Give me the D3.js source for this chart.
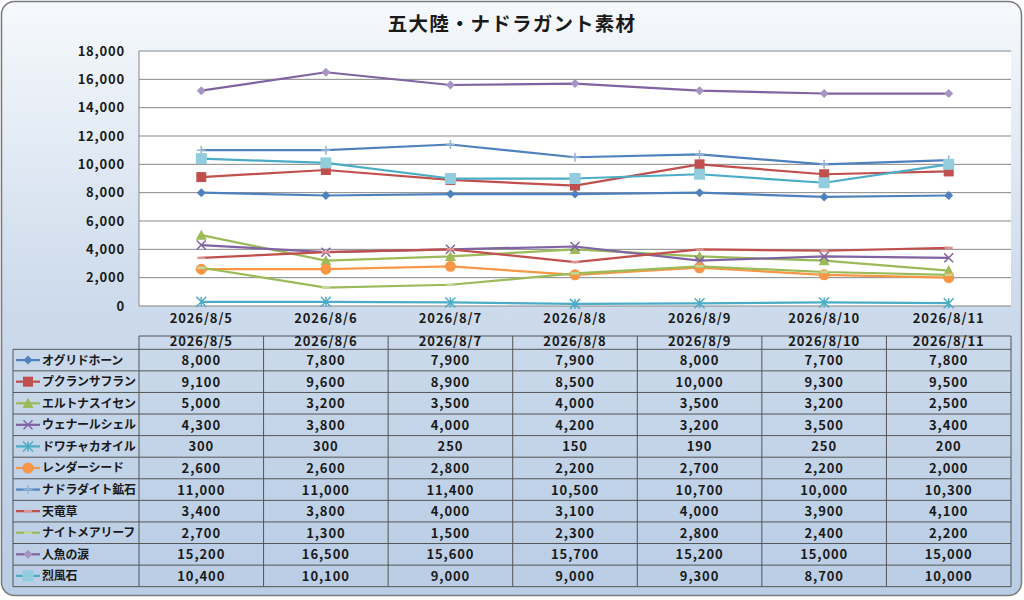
<!DOCTYPE html>
<html><head><meta charset="utf-8">
<script src="https://cdn.jsdelivr.net/npm/d3@7"></script>
<style>
html,body{margin:0;padding:0;background:#fff;}
text{font-family:"Noto Sans CJK JP","Noto Sans",sans-serif;font-weight:bold;fill:#1a1a1a;}
</style></head>
<body><svg id="c" width="1024" height="600"></svg>
<script>
const title = "五大陸・ナドラガント素材";
const categories = ["2026/8/5","2026/8/6","2026/8/7","2026/8/8","2026/8/9","2026/8/10","2026/8/11"];
const seriesNames = ["オグリドホーン","プクランサフラン","エルトナスイセン","ウェナールシェル","ドワチャカオイル","レンダーシード","ナドラダイト鉱石","天竜草","ナイトメアリーフ","人魚の涙","烈風石"];
const s1 = [8000,7800,7900,7900,8000,7700,7800];
const s2 = [9100,9600,8900,8500,10000,9300,9500];
const s3 = [5000,3200,3500,4000,3500,3200,2500];
const s4 = [4300,3800,4000,4200,3200,3500,3400];
const s5 = [300,300,250,150,190,250,200];
const s6 = [2600,2600,2800,2200,2700,2200,2000];
const s7 = [11000,11000,11400,10500,10700,10000,10300];
const s8 = [3400,3800,4000,3100,4000,3900,4100];
const s9 = [2700,1300,1500,2300,2800,2400,2200];
const s10 = [15200,16500,15600,15700,15200,15000,15000];
const s11 = [10400,10100,9000,9000,9300,8700,10000];
const seriesValues = [s1,s2,s3,s4,s5,s6,s7,s8,s9,s10,s11];
const yTicks = [0,2000,4000,6000,8000,10000,12000,14000,16000,18000];

const lineColors = ["#4F81BD","#C0504D","#9BBB59","#8064A2","#4BACC6","#F79646","#4F81BD","#C0504D","#9BBB59","#8064A2","#4BACC6"];
const markers = [
  {t:"diamond",fill:"#4F81BD",s:9},
  {t:"square",fill:"#C0504D",s:10},
  {t:"triangle",fill:"#9BBB59",s:11},
  {t:"times",stroke:"#8064A2",s:9},
  {t:"asterisk",stroke:"#4BACC6",s:10},
  {t:"circle",fill:"#F79646",s:11},
  {t:"plus",stroke:"#95B3D7",s:9},
  {t:"dash",stroke:"#D99694",s:8},
  {t:"dash",stroke:"#C3D69B",s:8},
  {t:"diamond",fill:"#A694C4",s:9},
  {t:"square",fill:"#93CDDD",s:11}
];

const svg = d3.select("#c");
const defs = svg.append("defs");
const g1 = defs.append("linearGradient").attr("id","bg").attr("x1",0).attr("y1",0).attr("x2",0).attr("y2",1);
g1.append("stop").attr("offset","0").attr("stop-color","#f6f9fc");
g1.append("stop").attr("offset","0.5").attr("stop-color","#cddbec");
g1.append("stop").attr("offset","1").attr("stop-color","#b9cde5");

svg.append("rect").attr("x",1.5).attr("y",1.5).attr("width",1020).attr("height",594)
  .attr("rx",13).attr("fill","url(#bg)").attr("stroke","#7a7a7a").attr("stroke-width",1.5);

svg.append("text").attr("x",512).attr("y",31).attr("text-anchor","middle")
  .attr("font-size",19.5).attr("letter-spacing","1.2px").text(title);

const L=139, R=1011, T=51, B=306;
const x = d3.scaleBand().domain(categories).range([L,R]).paddingInner(0).paddingOuter(0);
const cx = d => x(d)+x.bandwidth()/2;
const y = d3.scaleLinear().domain([0,18000]).range([B,T]);

svg.append("rect").attr("x",L).attr("y",T).attr("width",R-L).attr("height",B-T).attr("fill","#fff");
const grid = svg.append("g");
grid.selectAll("line").data(yTicks).join("line")
  .attr("x1",L).attr("x2",R).attr("y1",d=>y(d)).attr("y2",d=>y(d))
  .attr("stroke","#868686").attr("stroke-width",1);
svg.append("line").attr("x1",L).attr("x2",L).attr("y1",T).attr("y2",B).attr("stroke","#868686");

const fmt = d3.format(",");
const yAxis = d3.axisLeft(y).tickValues(yTicks).tickFormat(fmt).tickSize(0).tickPadding(14);
const ya = svg.append("g").attr("transform",`translate(${L},0)`).call(yAxis);
ya.select(".domain").remove();
ya.selectAll("text").attr("font-size",13).attr("letter-spacing","0.8px").attr("fill","#1a1a1a")
  .style("font-family",'"Noto Sans CJK JP",sans-serif').style("font-weight","bold");

const xAxis = d3.axisBottom(x).tickSize(0).tickPadding(8);
const xa = svg.append("g").attr("transform",`translate(0,${B})`).call(xAxis);
xa.select(".domain").remove();
xa.selectAll("text").attr("font-size",13).attr("letter-spacing","0.9px").attr("fill","#1a1a1a")
  .style("font-family",'"Noto Sans CJK JP",sans-serif').style("font-weight","bold");

function markerPath(m){
  const s=m.s;
  switch(m.t){
    case "diamond": return `M0,${-s/2}L${s/2},0L0,${s/2}L${-s/2},0Z`;
    case "square": return `M${-s/2},${-s/2}h${s}v${s}h${-s}Z`;
    case "triangle": return `M0,${-s/2}L${s/2},${s/2*0.85}L${-s/2},${s/2*0.85}Z`;
    case "times": return `M${-s/2},${-s/2}L${s/2},${s/2}M${s/2},${-s/2}L${-s/2},${s/2}`;
    case "asterisk": return `M${-s/2},${-s/2}L${s/2},${s/2}M${s/2},${-s/2}L${-s/2},${s/2}M0,${-s/2}V${s/2}`;
    case "plus": return `M${-s/2},0H${s/2}M0,${-s/2}V${s/2}`;
    case "dash": return `M${-s/2},0H${s/2}`;
    case "circle": return d3.symbol(d3.symbolCircle, Math.PI*s*s/4)();
  }
}
function drawMarker(sel, m){
  const p = sel.append("path").attr("d",markerPath(m));
  if(m.fill){ p.attr("fill",m.fill).attr("stroke","none"); }
  else { p.attr("fill","none").attr("stroke",m.stroke).attr("stroke-width", m.t==="dash"?2.5:1.5); }
  return p;
}

const line = d3.line().x((d,i)=>cx(categories[i])).y(d=>y(d));
const plot = svg.append("g");
seriesValues.forEach((vals,k)=>{
  const g = plot.append("g");
  g.append("path").attr("d",line(vals)).attr("fill","none")
    .attr("stroke",lineColors[k]).attr("stroke-width",2.25).attr("stroke-linejoin","round");
  vals.forEach((v,i)=>{
    const mg = g.append("g").attr("transform",`translate(${cx(categories[i])},${y(v)})`);
    drawMarker(mg, markers[k]);
  });
});

// data table
const tTop=336, hdrB=349.3, rowH=21.58, tL=13;
const tBot = hdrB + rowH*seriesNames.length;
const tbl = svg.append("g");
const lc = "#555";
// header row
tbl.append("line").attr("x1",L).attr("x2",R).attr("y1",tTop).attr("y2",tTop).attr("stroke",lc);
// row lines
d3.range(seriesNames.length+1).forEach(i=>{
  tbl.append("line").attr("x1",tL).attr("x2",R).attr("y1",hdrB+i*rowH).attr("y2",hdrB+i*rowH).attr("stroke",lc);
});
// vertical lines
tbl.append("line").attr("x1",tL).attr("x2",tL).attr("y1",hdrB).attr("y2",tBot).attr("stroke",lc);
categories.forEach(c=>{
  tbl.append("line").attr("x1",x(c)).attr("x2",x(c)).attr("y1",tTop).attr("y2",tBot).attr("stroke",lc);
});
tbl.append("line").attr("x1",R).attr("x2",R).attr("y1",tTop).attr("y2",tBot).attr("stroke",lc);

tbl.selectAll("text.h").data(categories).join("text").attr("class","h")
  .attr("x",d=>cx(d)).attr("y",tTop+10).attr("text-anchor","middle")
  .attr("font-size",13).attr("letter-spacing","0.9px").text(d=>d);

seriesNames.forEach((name,k)=>{
  const ry = hdrB + k*rowH;
  const my = ry + rowH/2;
  tbl.append("line").attr("x1",16).attr("x2",40).attr("y1",my).attr("y2",my)
    .attr("stroke",lineColors[k]).attr("stroke-width",2.25);
  const mg = tbl.append("g").attr("transform",`translate(28,${my})`);
  drawMarker(mg, markers[k]);
  tbl.append("text").attr("x",42).attr("y",my+4.5).attr("font-size",12).attr("letter-spacing","-0.3px").text(name);
  seriesValues[k].forEach((v,i)=>{
    tbl.append("text").attr("x",cx(categories[i])).attr("y",my+5).attr("text-anchor","middle")
      .attr("font-size",13).attr("letter-spacing","0.9px").text(fmt(v));
  });
});
</script></body></html>
